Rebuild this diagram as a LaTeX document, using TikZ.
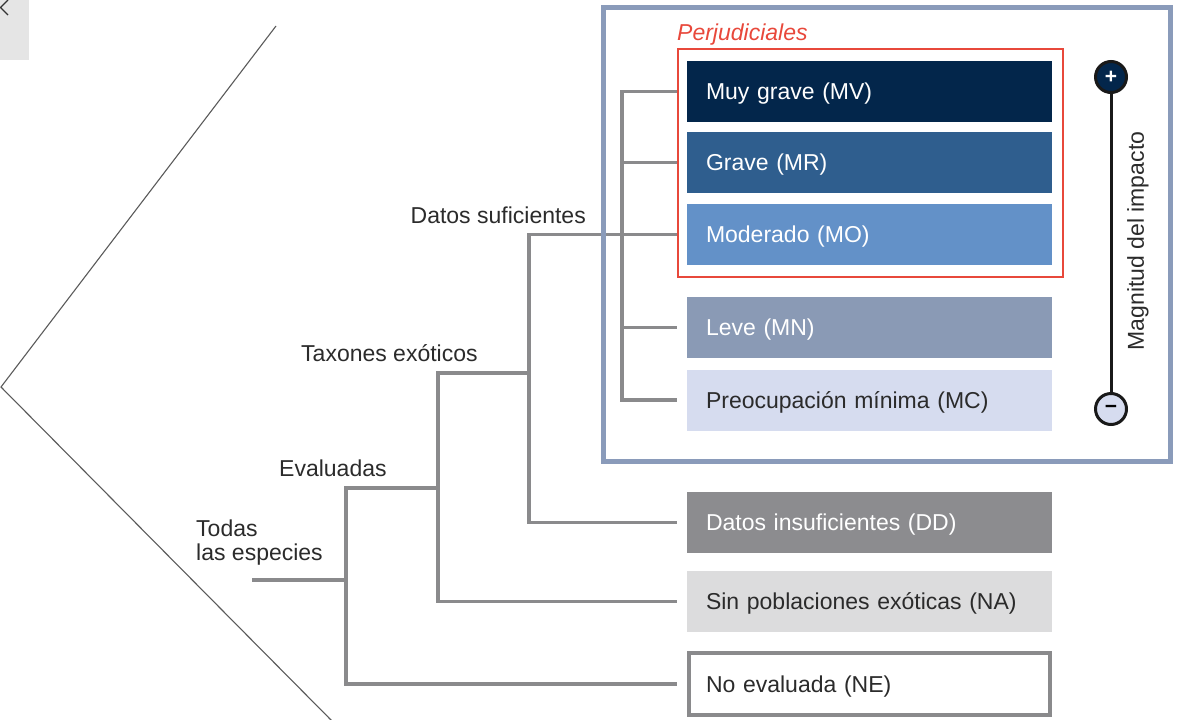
\documentclass[tikz,border=0pt]{standalone}
\usepackage{fontspec}
\setmainfont{Liberation Sans}
\definecolor{cMV}{HTML}{03264B}
\definecolor{cMR}{HTML}{2F5E8E}
\definecolor{cMO}{HTML}{6391C8}
\definecolor{cMN}{HTML}{8A9AB5}
\definecolor{cMC}{HTML}{D6DCEF}
\definecolor{cDD}{HTML}{8C8C8F}
\definecolor{cNA}{HTML}{DCDCDD}
\definecolor{cFrame}{HTML}{8A9BBA}
\definecolor{cRed}{HTML}{E8483B}
\definecolor{cTree}{HTML}{8A8A8C}
\definecolor{cText}{HTML}{2B2B2B}
\definecolor{cDiag}{HTML}{5A5A5A}
\newcommand\myfs{\fontsize{23}{24}\selectfont}
\tikzset{
  cat/.style={rectangle, minimum width=365pt, minimum height=61pt, text width=327pt,
    inner xsep=19pt, inner ysep=0pt, align=left, text height=16.5pt, text depth=0pt,
    font=\myfs},
  lbl/.style={inner sep=0pt, text height=16.5pt, text depth=0pt, font=\myfs, text=cText},
  tree/.style={draw=cTree, line width=3.8pt},
  dot/.style={circle, draw=black!90, line width=3pt, minimum size=31pt, inner sep=0pt}
}
\begin{document}
\begin{tikzpicture}[x=1pt,y=-1pt]
\useasboundingbox (0,0) rectangle (1178,720);
% top-left tab
\fill[black!10] (0,0) rectangle (29,60);
\draw[black!80, line width=1.1pt] (8,0) -- (0.5,7.5) -- (8,15);
% diagonal lines
\coordinate (dA) at (276,26);
\coordinate (dB) at (1,387);
\coordinate (dC) at (332,721);
\draw[cDiag, line width=1.1pt] (dA) -- (dB) -- (dC);

% category boxes
\node[cat, fill=cMV, text=white] (mv) at (869.5,91.5) {Muy grave (MV)};
\node[cat, fill=cMR, text=white] (mr) at (869.5,162.5) {Grave (MR)};
\node[cat, fill=cMO, text=white] (mo) at (869.5,234.5) {Moderado (MO)};
\node[cat, fill=cMN, text=white] (mn) at (869.5,327.5) {Leve (MN)};
\node[cat, fill=cMC, text=cText] (mc) at (869.5,400) {Preocupación mínima (MC)};
\node[cat, fill=cDD, text=white] (dd) at (869.5,522.5) {Datos insuficientes (DD)};
\node[cat, fill=cNA, text=cText] (na) at (869.5,601.5) {Sin poblaciones exóticas (NA)};
\node[cat, draw=cTree, line width=4pt, fill=white, text=cText, minimum width=361pt,
      minimum height=62pt, text width=327pt, inner xsep=17pt] (ne) at (869.5,684) {No evaluada (NE)};

% tree
\coordinate (root) at (252,580);
\coordinate (jE) at (346,580);
\coordinate (jT) at (438,488);
\coordinate (jS) at (529,373);
\coordinate (jI) at (622,234.5);
\draw[tree] (root) -- (jE);
\draw[tree] (jT) -| (jE) |- ([xshift=-10pt]ne.west);
\draw[tree] (jS) -| (jT) |- ([xshift=-10pt]na.west);
\draw[tree] ([xshift=-10pt]mo.west) -| (jS) |- ([xshift=-10pt]dd.west);
\draw[tree] ([xshift=-10pt]mv.west) -| (jI) |- ([xshift=-10pt]mc.west);
\draw[tree] ([xshift=-10pt]mr.west) -- (jI |- mr.west);
\draw[tree] ([xshift=-10pt]mn.west) -- (jI |- mn.west);

% frames
\draw[cFrame, line width=5pt] (603,7) rectangle (1170,461);
\draw[cRed, line width=2pt] (678,49) rectangle (1063,277);
\node[lbl, anchor=west, text=cRed, font=\myfs\itshape] (perj) at (677,32.5) {Perjudiciales};

% branch labels
\node[lbl, anchor=east] (dsuf) at (586,215) {Datos suficientes};
\node[lbl, anchor=west] (tax) at (301,353) {Taxones exóticos};
\node[lbl, anchor=west] (eval) at (279,468) {Evaluadas};
\node[inner sep=0pt, anchor=west, align=left, font=\myfs, text=cText] (todas) at (196,543) {Todas\\las especies};

% impact scale
\node[dot, fill=cMV, text=white, font=\fontsize{21}{21}\selectfont\bfseries] (plus) at (1111,77) {+};
\node[dot, fill=cMC, text=black, font=\fontsize{21}{21}\selectfont\bfseries] (minus) at (1111,409) {\char"2212};
\draw[black!90, line width=3pt] (plus) -- (minus);
\node[inner sep=0pt, rotate=90, font=\myfs, text=cText] (mag) at (1138,241) {Magnitud del impacto};
\end{tikzpicture}
\end{document}
